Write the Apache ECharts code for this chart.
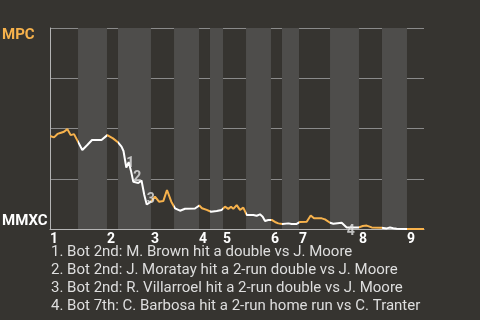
<!DOCTYPE html>
<html>
<head>
<meta charset="utf-8">
<script src="https://cdn.jsdelivr.net/npm/echarts@6/dist/echarts.min.js"></script>
<style>
html,body{margin:0;padding:0;background:#363430;}
#chart{width:480px;height:320px;}
</style>
</head>
<body>
<div id="chart"></div>
<script>
// ---- data ----
// game progress (0 = first pitch, 100 = final out)
const progress = [0,1.07,2.0,2.94,3.74,4.63,5.53,6.42,7.3,8.64,9.97,11.23,13.77,14.17,15.32,16.84,18.24,19.12,19.65,20.4,21.04,21.66,22.27,23.61,24.47,25.21,25.86,27.0,28.07,29.14,30.29,31.28,32.43,33.42,34.76,36.1,38.77,39.92,40.64,41.9,43.05,44.57,45.91,46.79,47.67,48.4,49.01,49.92,50.8,51.68,52.59,54.36,55.27,56.15,56.87,57.49,58.37,59.28,60.16,61.04,62.17,63.72,64.63,65.96,66.84,68.64,69.71,70.59,72.65,73.53,74.87,75.75,77.99,79.33,82.43,83.61,84.68,86.02,88.69,90.03,90.91,91.79,92.7,95.37,97.59,100];
// MPC win probability (%)
const mpcWinPct = [46.3,45.6,47.3,47.9,48.4,49.7,46.7,47.2,44.1,39.3,41.8,44.3,44.3,43.9,46.7,45.1,43.0,41.0,38.8,30.6,33.3,28.9,23.5,22.9,24.1,16.9,12.2,13.6,16.1,13.6,13.9,19.4,13.6,10.3,9.1,10.1,10.2,11.7,10.3,9.5,8.6,9.0,9.5,11.1,10.0,11.1,10.0,11.9,9.5,10.6,7.0,7.0,6.6,7.3,6.1,4.0,4.5,4.5,3.5,2.8,2.5,2.8,2.5,2.5,3.5,3.6,6.7,5.3,5.3,4.8,3.1,2.6,3.1,0.8,0.7,1.5,1.7,0.8,0.6,0.3,0.7,0.4,0.1,0,0,0];
// start of each half inning (top 1, bot 1, top 2, ...)
const halfInningStarts = [0,7.49,15.24,18.18,27.0,33.16,39.84,42.78,46.26,52.41,59.09,62.03,66.58,74.87,82.62,88.77,95.45];
const gameEnd = 100;
const inningLabels = ['1','2','3','4','5','6','7','8','9'];
const teamTop = 'MPC';
const teamBottom = 'MMXC';
const eventPointIndex = [19,22,26,73];
const eventLabels = ['1','2','3','4'];
const eventNotes = [
  '1. Bot 2nd: M. Brown hit a double vs J. Moore',
  '2. Bot 2nd: J. Moratay hit a 2-run double vs J. Moore',
  '3. Bot 2nd: R. Villarroel hit a 2-run double vs J. Moore',
  '4. Bot 7th: C. Barbosa hit a 2-run home run vs C. Tranter'
];

// ---- styles ----
const BG = '#363430';
const BAND = '#4e4d4b';
const ORANGE = '#f7b24c';
const WHITE = '#ffffff';
const GRIDC = '#8a8a8a';
const AXISC = '#b4b4b4';
const FONT = 'Roboto';
const eventLabelOffsets = [[4,-4],[4,-4],[4,-5],[4,4]];

const linePoints = progress.map((x, i) => [x, mpcWinPct[i]]);
const bounds = halfInningStarts.concat([gameEnd]);
const pieces = [];
const bands = [];
for (let i = 0; i < halfInningStarts.length; i++) {
  const isTop = i % 2 === 0;
  const p = { gte: bounds[i], color: isTop ? ORANGE : WHITE };
  if (i < halfInningStarts.length - 1) p.lt = bounds[i + 1]; else p.lte = bounds[i + 1];
  pieces.push(p);
  if (!isTop) bands.push([{ xAxis: bounds[i] }, { xAxis: bounds[i + 1] }]);
}
const inningStarts = halfInningStarts.filter((v, i) => i % 2 === 0);

const eventData = eventPointIndex.map((idx, k) => ({
  value: linePoints[idx],
  label: { formatter: eventLabels[k], offset: eventLabelOffsets[k] }
}));

const chart = echarts.init(document.getElementById('chart'), null, { renderer: 'canvas' });
chart.setOption({
  backgroundColor: BG,
  animation: false,
  textStyle: { fontFamily: FONT },
  grid: { left: 50, top: 28, width: 374, height: 201, containLabel: false, outerBoundsMode: 'none' },
  title: {
    text: eventNotes.join('\n'),
    left: 51, top: 243, padding: 0,
    textStyle: { fontFamily: FONT, fontSize: 15, fontWeight: 'normal', color: '#dedede', lineHeight: 18 }
  },
  visualMap: {
    show: false, type: 'piecewise', seriesIndex: 1, dimension: 0, pieces: pieces
  },
  xAxis: {
    type: 'value', min: 0, max: gameEnd,
    splitLine: { show: false },
    axisTick: { show: false },
    axisLine: { show: true, lineStyle: { color: AXISC, width: 1 } },
    axisLabel: {
      customValues: inningStarts,
      formatter: v => inningLabels[inningStarts.indexOf(v)] || '',
      align: 'left', margin: 3,
      color: WHITE, fontWeight: 'bold', fontSize: 14, fontFamily: FONT,
      showMinLabel: true, showMaxLabel: true, hideOverlap: false
    }
  },
  yAxis: {
    type: 'value', min: 0, max: 100, interval: 25,
    splitLine: { show: true, lineStyle: { color: GRIDC, width: 1 } },
    axisTick: { show: false },
    axisLine: { show: true, lineStyle: { color: AXISC, width: 1 } },
    axisLabel: {
      align: 'left', margin: 48,
      formatter: v => v === 100 ? '{a|' + teamTop + '}' : (v === 0 ? '{b|' + teamBottom + '}' : ''),
      rich: {
        a: { color: ORANGE, fontWeight: 'bold', fontSize: 15, fontFamily: FONT, padding: [14, 0, 0, 0] },
        b: { color: WHITE, fontWeight: 'bold', fontSize: 15, fontFamily: FONT, padding: [0, 0, 16, 0] }
      }
    }
  },
  series: [
    {
      type: 'line', z: -1, data: [], silent: true,
      markArea: { silent: true, itemStyle: { color: BAND }, data: bands }
    },
    {
      type: 'line', z: 3, data: linePoints, showSymbol: false, symbol: 'none',
      lineStyle: { width: 2 }, silent: true
    },
    {
      type: 'scatter', z: 4, data: eventData, symbolSize: 0, silent: true,
      label: { show: true, position: 'inside', color: '#e4e4e4', fontWeight: 'bold', fontSize: 14, fontFamily: FONT }
    }
  ]
});
</script>
</body>
</html>
